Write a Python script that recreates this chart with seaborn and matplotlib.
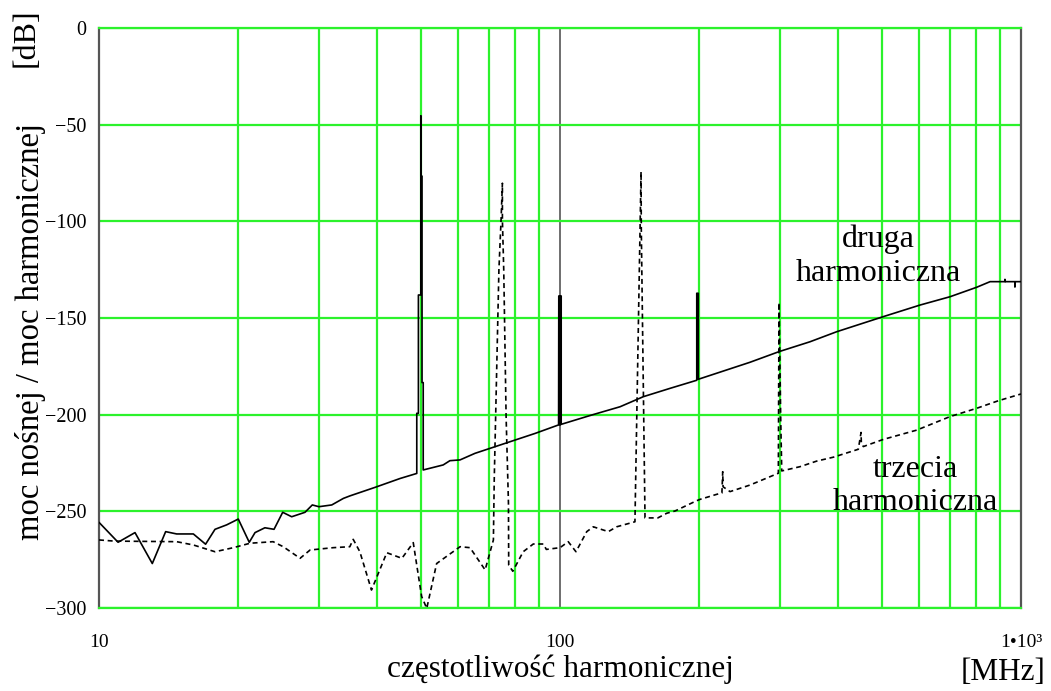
import numpy as np
import pandas as pd
import matplotlib
matplotlib.use("Agg")
import matplotlib.pyplot as plt
import seaborn as sns

# ---- data (frequency in MHz, level in dB) ----
second_f = [10, 11.0, 11.97, 13.05, 13.95, 14.74, 16.02, 17.03, 17.85, 18.92,
            20.05, 21.18, 21.8, 22.9, 23.97, 25.03, 26.18, 27.98, 29.02, 30.0,
            31.98, 33.9, 35.03, 39.7, 45.0, 48.9, 48.9, 49.3, 49.3, 49.9,
            49.9, 49.9, 50.2, 50.2, 50.5, 50.5, 55.8, 57.7, 60.7, 65.4,
            88.3, 99.3, 99.4, 99.8, 99.8, 100.2, 100.2, 100.6, 100.6, 117.1,
            135.0, 151.6, 173.2, 198.0, 198.0, 199.5, 199.5, 258.3, 298.6, 348.5,
            398.3, 502.6, 604, 701.5, 801.5, 857, 923, 923, 925, 970,
            970, 972, 1000]
second_db = [-255.7, -266, -261, -277, -260.5, -261.7, -261.7, -267, -259.3, -257,
             -254, -266, -261, -258.5, -259.3, -250.5, -252.8, -250.5, -246.7, -247.6,
             -246.7, -243.3, -242, -237.6, -233, -230.4, -199.3, -199.3, -138.1, -138.1,
             -45.5, -76.6, -76.6, -183.4, -183.4, -228.6, -226, -223.8, -223.4, -220,
             -209.7, -205.3, -138.6, -138.6, -205.3, -205.3, -138.6, -138.6, -205, -200.2,
             -195.9, -190.7, -186.4, -182.2, -137.2, -137.2, -181.7, -172.9, -167.4, -162.3,
             -157.1, -149.3, -143.3, -139, -134.1, -131.2, -131.2, -130, -131.2, -131.2,
             -134, -131.2, -131.2]

third_f = [10, 10.8, 14.74, 16.02, 17.85, 19.56, 21.27, 23.86, 25.1, 27.3,
           28.7, 32.2, 35.0, 35.6, 36.8, 39.0, 42.1, 45.4, 48.05, 50.1,
           51.4, 54.0, 60.7, 63.8, 68.8, 71.7, 72.0, 73.7, 74.5, 75.0,
           75.0, 75.5, 76.4, 77.3, 77.4, 79.0, 83.2, 87.5, 92.0, 93.4,
           100, 104.2, 108.3, 114.3, 118.1, 127.3, 132.7, 145.4, 149.9, 150.1,
           152.9, 163, 170.4, 177.7, 197.9, 201.3, 218.8, 224.5, 225.4, 225.8,
           233.8, 258.3, 297.6, 298.6, 299.6, 301.0, 302.7, 331.6, 360.6, 391.6,
           443.7, 449.8, 450.5, 455, 502.6, 593.9, 701.5, 801.5, 893, 1000]
third_db = [-264.8, -265.4, -265.7, -267.4, -270.9, -268.8, -266.5, -265.7, -268.3, -274.3,
            -270, -268.8, -268.3, -264.5, -270.9, -290.7, -271.4, -274.3, -266.2, -294,
            -300.2, -277, -268.3, -268.8, -280.3, -264.8, -233.8, -125.2, -99.3, -80.3,
            -99.3, -125, -201, -245.7, -277.8, -281, -270.9, -266.9, -266.9, -269.7,
            -268.8, -265.7, -270.9, -260.5, -258, -260.5, -258, -255.4, -74.3, -104.5,
            -253.4, -253.4, -251, -249.8, -244.5, -243.8, -241.2, -240.5, -229.5, -237.3,
            -239.8, -236.4, -230.3, -142, -165, -200, -229.1, -226.9, -224, -222,
            -217.9, -209.2, -214.8, -216.5, -212.8, -208, -201, -196.7, -192.8, -189.3]

y_ticks = [0, -50, -100, -150, -200, -250, -300]
y_tick_labels = ["0", "\u221250", "\u2212100", "\u2212150", "\u2212200", "\u2212250", "\u2212300"]
x_ticks = [10, 100, 1000]
x_tick_labels = ["10", "100", "1\u202210\u00b3"]
x_minor = [20, 30, 40, 50, 60, 70, 80, 90, 200, 300, 400, 500, 600, 700, 800, 900]

x_label = "częstotliwość harmonicznej"
y_label = "moc nośnej / moc harmonicznej"
x_unit = "[MHz]"
y_unit = "[dB]"
label_second = "druga\nharmoniczna"
label_third = "trzecia\nharmoniczna"

# ---- style ----
sns.set_theme(style="white")
plt.rcParams["font.family"] = ["Liberation Serif", "DejaVu Serif"]

GREEN = "#2cf22c"
DARK = "#555555"

fig = plt.figure(figsize=(10.51, 6.91), dpi=100)
ax = fig.add_axes([99 / 1051, 1 - 608 / 691, (1021 - 99) / 1051, (608 - 28) / 691])

df2 = pd.DataFrame({"f": second_f, "db": second_db})
df3 = pd.DataFrame({"f": third_f, "db": third_db})

sns.lineplot(data=df2, x="f", y="db", sort=False, estimator=None, ax=ax,
             color="black", linewidth=1.2, zorder=4)
sns.lineplot(data=df3, x="f", y="db", sort=False, estimator=None, ax=ax,
             color="black", linewidth=1.2, zorder=4)
ax.lines[-1].set_linestyle((0, (3, 2.2)))

ax.set_xscale("log")
ax.set_xlim(10, 1000)
ax.set_ylim(-300, 0)

ax.set_xticks(x_ticks)
ax.set_xticklabels(x_tick_labels)
ax.set_xticks(x_minor, minor=True)
ax.set_xticklabels([], minor=True)
ax.set_yticks(y_ticks)
ax.set_yticklabels(y_tick_labels)

ax.set_axisbelow(True)
ax.grid(False)
ax.xaxis.grid(True, which="minor", color=GREEN, linewidth=1.6)
ax.xaxis.grid(True, which="major", color=DARK, linewidth=1.2)
ax.yaxis.grid(True, which="major", color=GREEN, linewidth=1.6)

for s in ["top", "bottom"]:
    ax.spines[s].set_color(GREEN)
    ax.spines[s].set_linewidth(1.6)
for s in ["left", "right"]:
    ax.spines[s].set_color(DARK)
    ax.spines[s].set_linewidth(1.6)

ax.tick_params(axis="both", which="both", length=0)
ax.tick_params(axis="y", labelsize=14.5, pad=9, labelcolor="black")
ax.tick_params(axis="x", labelsize=14, pad=19, labelcolor="black")

ax.set_xlabel(x_label, fontsize=22.5, color="black")
ax.xaxis.set_label_coords(0.5, -0.081)
ax.set_ylabel(y_label, fontsize=23.5, color="black")
ax.yaxis.set_label_coords(-0.058, 0.476)

fig.text(1003 / 1051, 1 - 672 / 691, x_unit, fontsize=22.5, ha="center", va="center", color="black")
fig.text(26 / 1051, 1 - 38 / 691, y_unit, fontsize=23, ha="center", va="center",
         rotation=90, color="black")

ax.text(490, -118, label_second, fontsize=23, ha="center", va="center",
        linespacing=1.2, color="black", zorder=5)
ax.text(589, -237, label_third, fontsize=23, ha="center", va="center",
        linespacing=1.2, color="black", zorder=5)

fig.savefig("out.png", dpi=100)
